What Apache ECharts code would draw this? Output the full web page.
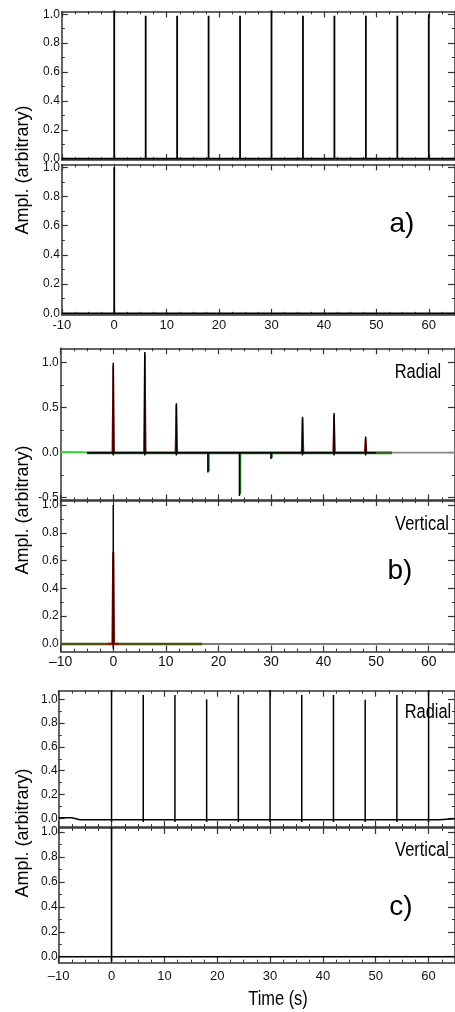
<!DOCTYPE html>
<html><head><meta charset="utf-8">
<script src="https://cdn.jsdelivr.net/npm/echarts@6/dist/echarts.min.js"></script>
<style>html,body{margin:0;padding:0;background:#fff}#c{width:455px;height:1012px}</style>
</head><body><div id="c"></div>
<script>
// ---------- tick labels ----------
const xMajor = [-10, 0, 10, 20, 30, 40, 50, 60];
const xMinor = [-7.5, -5, -2.5, 2.5, 5, 7.5, 12.5, 15, 17.5, 22.5, 25, 27.5, 32.5, 35, 37.5, 42.5, 45, 47.5, 52.5, 55, 57.5, 62.5];
const yMajor01 = [0, 0.2, 0.4, 0.6, 0.8, 1.0];
const yMinor01 = [0.1, 0.3, 0.5, 0.7, 0.9];
const yMajorB1 = [-0.5, 0, 0.5, 1.0];
const yMinorB1 = [-0.25, 0.25, 0.75];

// ---------- data ----------
// a) Radial / Vertical
const aRadialT = [0, 6, 12, 18, 24, 30, 36, 42, 48, 54, 60];
const aRadialH = [1.03, 0.99, 0.99, 0.99, 0.99, 1.03, 0.99, 0.99, 0.99, 0.99, 1.0];
const aVertT = [0];
const aVertH = [1.0];
// b) Radial
const bRadialT = [0, 6, 12, 18, 24, 30, 36, 42, 48];
const bRadialH = [1.0, 1.12, 0.55, -0.22, -0.48, -0.07, 0.40, 0.44, 0.18];
const bRadialRedT = [0, 6, 12, 36, 42, 48];
const bRadialRedH = [0.97, 1.09, 0.53, 0.38, 0.42, 0.16];
const bRadialGreenT = [18, 24, 30];
const bRadialGreenH = [-0.21, -0.46, -0.06];
// b) Vertical
const bVertT = [0];
const bVertH = [1.0];
const bVertRedH = [0.66];
// c) Radial
const cRadialT = [0, 6, 12, 18, 24, 30, 36, 42, 48, 54, 60];
const cRadialH = [1.09, 1.035, 1.035, 1.0, 1.035, 1.09, 1.035, 1.035, 0.995, 1.035, 1.09];
const cRadialPreT = [-10, -7.5, -6];
const cRadialPreV = [0.005, 0.005, -0.012];
const cRadialPostT = [62, 65];
const cRadialPostV = [-0.012, -0.004];
// c) Vertical
const cVertT = [0];
const cVertH = [1.06];

// ---------- helpers ----------
function spikes(t0, t1, times, heights, base, dx, dip) {
  const d = [];
  if (t0 !== null) d.push([t0, base]);
  times.forEach((t, i) => {
    d.push([t + dx, base]);
    if (dip !== null) d.push([t + dx, dip]);
    d.push([t + dx, heights[i]]);
    d.push([t + dx, base]);
  });
  if (t1 !== null) d.push([t1, base]);
  return d;
}
function triSpikes(t0, t1, times, heights, base, hw) {
  const d = [[t0, base]];
  times.forEach((t, i) => {
    d.push([t - hw, base]);
    d.push([t, heights[i]]);
    d.push([t + hw, base]);
  });
  d.push([t1, base]);
  return d;
}

const FRAME = '#333';
const SANS = '"Liberation Sans",Arial,sans-serif';

const panels = [
  {left: 61.8, top: 11.4, width: 399, height: 148.7, min: -0.01, max: 1.02, yMaj: yMajor01, yMin: yMinor01, xLab: false, ySize: 12, xSize: 13, dash: '-', yMargin: 2, xMargin: 4},
  {left: 61.8, top: 164.4, width: 399, height: 150.4, min: -0.01, max: 1.02, yMaj: yMajor01, yMin: yMinor01, xLab: true, ySize: 12, xSize: 13, dash: '-', yMargin: 2, xMargin: 4},
  {left: 60.7, top: 348.3, width: 400, height: 152.1, min: -0.53, max: 1.16, yMaj: yMajorB1, yMin: yMinorB1, xLab: false, ySize: 12, xSize: 14, dash: '\u2013', yMargin: 2, xMargin: 4},
  {left: 60.7, top: 500.0, width: 400, height: 151.6, min: -0.055, max: 1.036, yMaj: yMajor01, yMin: yMinor01, xLab: true, ySize: 12, xSize: 14, dash: '\u2013', yMargin: 2, xMargin: 4},
  {left: 58.7, top: 690.7, width: 402, height: 136.3, min: -0.073, max: 1.072, yMaj: yMajor01, yMin: yMinor01, xLab: false, ySize: 12, xSize: 13, dash: '\u2013', yMargin: 1, xMargin: 7},
  {left: 58.7, top: 828.0, width: 402, height: 134.7, min: -0.048, max: 1.032, yMaj: yMajor01, yMin: yMinor01, xLab: true, ySize: 12, xSize: 13, dash: '\u2013', yMargin: 1, xMargin: 7}
];

const grid = [], xAxis = [], yAxis = [], mainX = [], mainY = [];
panels.forEach((p, gi) => {
  grid.push({left: p.left, top: p.top, width: p.width, height: p.height, containLabel: false});
  const lineOn = {show: true, onZero: false, lineStyle: {color: FRAME, width: 1.5}};
  const lineOff = {show: false, onZero: false};
  const baseX = {gridIndex: gi, type: 'value', min: -10, max: 65, splitLine: {show: false}, silent: true};
  mainX.push(xAxis.length);
  xAxis.push(Object.assign({}, baseX, {
    position: 'bottom', axisLine: lineOn,
    axisTick: {show: true, inside: true, length: 6, customValues: xMajor, lineStyle: {color: FRAME, width: 1.2}},
    axisLabel: {show: p.xLab, customValues: xMajor, margin: p.xMargin, color: '#111', fontFamily: SANS, fontSize: p.xSize,
      formatter: v => (v < 0 ? p.dash + Math.abs(v) : String(v))}
  }));
  xAxis.push(Object.assign({}, baseX, {
    position: 'bottom', axisLine: lineOff,
    axisTick: {show: true, inside: true, length: 3, customValues: xMinor, lineStyle: {color: FRAME, width: 1}},
    axisLabel: {show: false}
  }));
  xAxis.push(Object.assign({}, baseX, {
    position: 'top', axisLine: lineOn,
    axisTick: {show: true, inside: true, length: 6, customValues: xMajor, lineStyle: {color: FRAME, width: 1.2}},
    axisLabel: {show: false}
  }));
  xAxis.push(Object.assign({}, baseX, {
    position: 'top', axisLine: lineOff,
    axisTick: {show: true, inside: true, length: 3, customValues: xMinor, lineStyle: {color: FRAME, width: 1}},
    axisLabel: {show: false}
  }));
  const baseY = {gridIndex: gi, type: 'value', min: p.min, max: p.max, splitLine: {show: false}, silent: true};
  mainY.push(yAxis.length);
  yAxis.push(Object.assign({}, baseY, {
    position: 'left', axisLine: lineOn,
    axisTick: {show: true, inside: true, length: 6, customValues: p.yMaj, lineStyle: {color: FRAME, width: 1.2}},
    axisLabel: {show: true, customValues: p.yMaj, margin: p.yMargin, color: '#111', fontFamily: SANS, fontSize: p.ySize,
      formatter: v => v.toFixed(1)}
  }));
  yAxis.push(Object.assign({}, baseY, {
    position: 'left', axisLine: lineOff,
    axisTick: {show: true, inside: true, length: 3, customValues: p.yMin, lineStyle: {color: FRAME, width: 1}},
    axisLabel: {show: false}
  }));
  yAxis.push(Object.assign({}, baseY, {
    position: 'right', axisLine: lineOn,
    axisTick: {show: true, inside: true, length: 7, customValues: p.yMaj, lineStyle: {color: FRAME, width: 1.2}},
    axisLabel: {show: false}
  }));
  yAxis.push(Object.assign({}, baseY, {
    position: 'right', axisLine: lineOff,
    axisTick: {show: true, inside: true, length: 3, customValues: p.yMin, lineStyle: {color: FRAME, width: 1}},
    axisLabel: {show: false}
  }));
});

function line(gi, data, color, width, z) {
  return {type: 'line', xAxisIndex: mainX[gi], yAxisIndex: mainY[gi], data: data, showSymbol: false, symbol: 'none',
    lineStyle: {color: color, width: width, join: 'miter'}, z: z || 2, animation: false, silent: true, clip: true};
}

const series = [
  // a)
  line(0, spikes(-10, 65, aRadialT, aRadialH, 0, 0, null), '#000', 1.8),
  line(1, spikes(-10, 65, aVertT, aVertH, 0, 0, null), '#000', 1.8),
  // b) radial
  line(2, [[-10, 0.006], [-5, 0.003]], '#3fd03f', 2.2),
  line(2, [[52, 0.0], [65, 0.0]], '#888', 1.8),
  line(2, triSpikes(-5, 53, bRadialRedT, bRadialRedH, 0.004, 0.18), '#8a1414', 1.6, 3),
  line(2, spikes(-5, 53, bRadialGreenT, bRadialGreenH, -0.005, 0.15, null), '#1f7a1f', 2.0, 4),
  line(2, spikes(-5, 50, bRadialT, bRadialH, 0, 0, -0.03), '#000', 1.5, 5),
  // b) vertical
  line(3, [[-10, 0], [17, 0]], '#4f4f0c', 2.6, 3),
  line(3, [[17, 0], [65, 0]], '#555', 1.6, 3),
  line(3, triSpikes(-1, 1, bVertT, bVertRedH, 0, 0.15), '#8a1010', 2.2, 4),
  line(3, spikes(null, null, bVertT, bVertH, 0, 0, -0.035), '#000', 1.5, 5),
  // c) radial
  line(4, cRadialPreT.map((t, i) => [t, cRadialPreV[i]])
      .concat(spikes(null, null, cRadialT, cRadialH, -0.012, 0, -0.03))
      .concat(cRadialPostT.map((t, i) => [t, cRadialPostV[i]])), '#000', 1.5),
  // c) vertical
  line(5, spikes(-10, 65, cVertT, cVertH, 0, 0, -0.04), '#000', 1.6)
];

function txt(x, y, text, size, rot, sx) {
  return {type: 'text', x: x, y: y, rotation: rot || 0, scaleX: sx || 1, silent: true,
    style: {text: text, fontFamily: SANS, fontSize: size, fill: '#000', align: 'center', verticalAlign: 'middle'}};
}
const graphic = [
  txt(23, 170, 'Ampl. (arbitrary)', 18, Math.PI / 2),
  txt(23, 510, 'Ampl. (arbitrary)', 18, Math.PI / 2),
  txt(23, 833, 'Ampl. (arbitrary)', 18, Math.PI / 2),
  txt(402, 224, 'a)', 28),
  txt(400, 571, 'b)', 28),
  txt(401, 907, 'c)', 28),
  txt(418, 372, 'Radial', 20, 0, 0.82),
  txt(422, 524, 'Vertical', 20, 0, 0.82),
  txt(428, 712, 'Radial', 20, 0, 0.82),
  txt(422, 850, 'Vertical', 20, 0, 0.82),
  txt(278, 999, 'Time (s)', 20, 0, 0.82)
];

const chart = echarts.init(document.getElementById('c'), null, {renderer: 'canvas'});
chart.setOption({animation: false, backgroundColor: '#fff', grid, xAxis, yAxis, series, graphic});
</script>
</body></html>
